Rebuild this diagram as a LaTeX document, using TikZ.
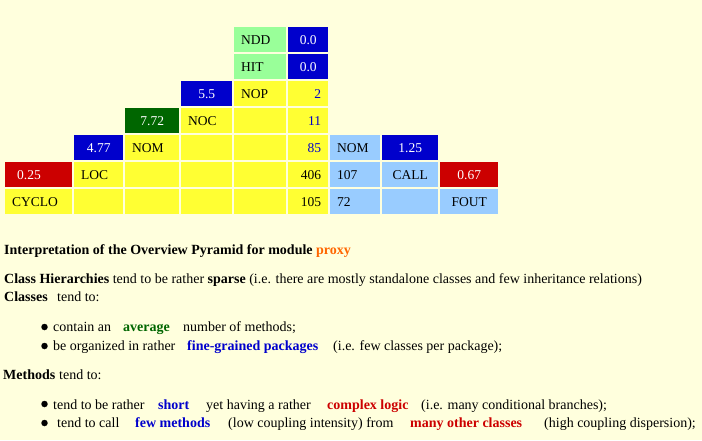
\documentclass[tikz,border=0pt]{standalone}
\usepackage{fontspec}
\setmainfont{Liberation Serif}
\usepackage{xcolor}
\usepackage{tikz}

\definecolor{pagebg}{HTML}{FFFFDD}
\definecolor{cellyellow}{HTML}{FFFF33}
\definecolor{cellgreen}{HTML}{99FF99}
\definecolor{cellblue}{HTML}{0000CC}
\definecolor{celllightblue}{HTML}{99CCFF}
\definecolor{cellred}{HTML}{CC0000}
\definecolor{celldarkgreen}{HTML}{006600}
\definecolor{proxyorange}{HTML}{FF6600}

\begin{document}
\begin{tikzpicture}[x=1pt, y=-1pt,
        cell/.style={rectangle, anchor=north west, minimum height=25pt, inner xsep=7pt, inner ysep=8pt,
            text height=9pt, text depth=0pt, font=\fontsize{13.5}{15}\selectfont},
        yel/.style={cell, fill=cellyellow},
        grn/.style={cell, fill=cellgreen},
        lb/.style={cell, fill=celllightblue},
        hi/.style={cell, fill=cellblue, text=white, align=center},
        dk/.style={cell, fill=celldarkgreen, text=white, align=center},
        lo/.style={cell, fill=cellred, text=white, align=center},
        num/.style={yel, align=right, text=cellblue},
        w0/.style={text width=53pt}, w1/.style={text width=35pt}, w2/.style={text width=40pt},
        w3/.style={text width=37pt}, w4/.style={text width=38pt}, w5/.style={text width=26pt},
        w6/.style={text width=36pt}, w7/.style={text width=42pt}, w8/.style={text width=44pt},
        txt/.style={anchor=base west, inner sep=0pt, font=\fontsize{14}{16}\selectfont},
        key/.style={txt, font=\fontsize{14}{16}\selectfont\bfseries},
        dot/.style={circle, fill=black, inner sep=0pt, minimum size=6.5pt}
    ]
        \fill[pagebg] (0,0) rectangle (702,440);

        % pyramid, size and complexity part
        \node[grn, w4] (ndd) at (234,27) {NDD};
        \node[hi, w5] (ndd-val) at (288,27) {0.0};
        \node[grn, w4] (hit) at (234,54) {HIT};
        \node[hi, w5] (hit-val) at (288,54) {0.0};
        \node[hi, w3] (noc-nop) at (181,81) {5.5};
        \node[yel, w4] (nop) at (234,81) {NOP};
        \node[num, w5] (nop-val) at (288,81) {2};
        \node[dk, w2] (nom-noc) at (125,108) {7.72};
        \node[yel, w3] (noc) at (181,108) {NOC};
        \node[yel, w4] (r3c4) at (234,108) {};
        \node[num, w5] (noc-val) at (288,108) {11};
        \node[hi, w1] (loc-nom) at (74,135) {4.77};
        \node[yel, w2] (nom) at (125,135) {NOM};
        \node[yel, w3] (r4c3) at (181,135) {};
        \node[yel, w4] (r4c4) at (234,135) {};
        \node[num, w5] (nom-val) at (288,135) {85};
        \node[lo, inner xsep=12pt, text width=43pt, align=left] (cyclo-loc) at (5,162) {0.25};
        \node[yel, w1] (loc) at (74,162) {LOC};
        \node[yel, w2] (r5c2) at (125,162) {};
        \node[yel, w3] (r5c3) at (181,162) {};
        \node[yel, w4] (r5c4) at (234,162) {};
        \node[yel, w5, align=right] (loc-val) at (288,162) {406};
        \node[yel, w0] (cyclo) at (5,189) {CYCLO};
        \node[yel, w1] (r6c1) at (74,189) {};
        \node[yel, w2] (r6c2) at (125,189) {};
        \node[yel, w3] (r6c3) at (181,189) {};
        \node[yel, w4] (r6c4) at (234,189) {};
        \node[yel, w5, align=right] (cyclo-val) at (288,189) {105};

        % pyramid, coupling part
        \node[lb, w6] (nom-c) at (330,135) {NOM};
        \node[hi, w7] (call-nom) at (382,135) {1.25};
        \node[lb, w6] (call-val) at (330,162) {107};
        \node[lb, w7, align=center] (call) at (382,162) {CALL};
        \node[lo, w8] (fout-call) at (440,162) {0.67};
        \node[lb, w6] (fout-val) at (330,189) {72};
        \node[lb, w7] (r6c7) at (382,189) {};
        \node[lb, w8, align=center] (fout) at (440,189) {FOUT};

        % interpretation
        \node[key] (head) at (4,254) {Interpretation of the Overview Pyramid for module \textcolor{proxyorange}{proxy}};
        \node[txt] (hier) at (4,283) {\textbf{Class Hierarchies} tend to be rather \textbf{sparse} (i.e. there are mostly standalone classes and few inheritance relations)};
        \node[key] (classes) at (4,301) {Classes};
        \node[txt] (classes-tend) at (57,301) {tend to:};

        \node[dot] (dot1) at (44.5,327) {};
        \node[txt] (b1a) at (53,331) {contain an};
        \node[key, text=celldarkgreen] (b1b) at (123,331) {average};
        \node[txt] (b1c) at (183,331) {number of methods;};

        \node[dot] (dot2) at (44.5,346) {};
        \node[txt] (b2a) at (53,350) {be organized in rather};
        \node[key, text=cellblue] (b2b) at (187,350) {fine-grained packages};
        \node[txt] (b2c) at (333,350) {(i.e. few classes per package);};

        \node[key] (methods) at (3,379) {Methods};
        \node[txt] (methods-tend) at (59,379) {tend to:};

        \node[dot] (dot3) at (44.5,404) {};
        \node[txt] (b3a) at (53,409) {tend to be rather};
        \node[key, text=cellblue] (b3b) at (158,409) {short};
        \node[txt] (b3c) at (206,409) {yet having a rather};
        \node[key, text=cellred] (b3d) at (327,409) {complex logic};
        \node[txt] (b3e) at (421,409) {(i.e. many conditional branches);};

        \node[dot] (dot4) at (44.5,423) {};
        \node[txt] (b4a) at (57,427) {tend to call};
        \node[key, text=cellblue] (b4b) at (135,427) {few methods};
        \node[txt] (b4c) at (228,427) {(low coupling intensity) from};
        \node[key, text=cellred] (b4d) at (410,427) {many other classes};
        \node[txt] (b4e) at (544,427) {(high coupling dispersion);};
    \end{tikzpicture}
\end{document}
